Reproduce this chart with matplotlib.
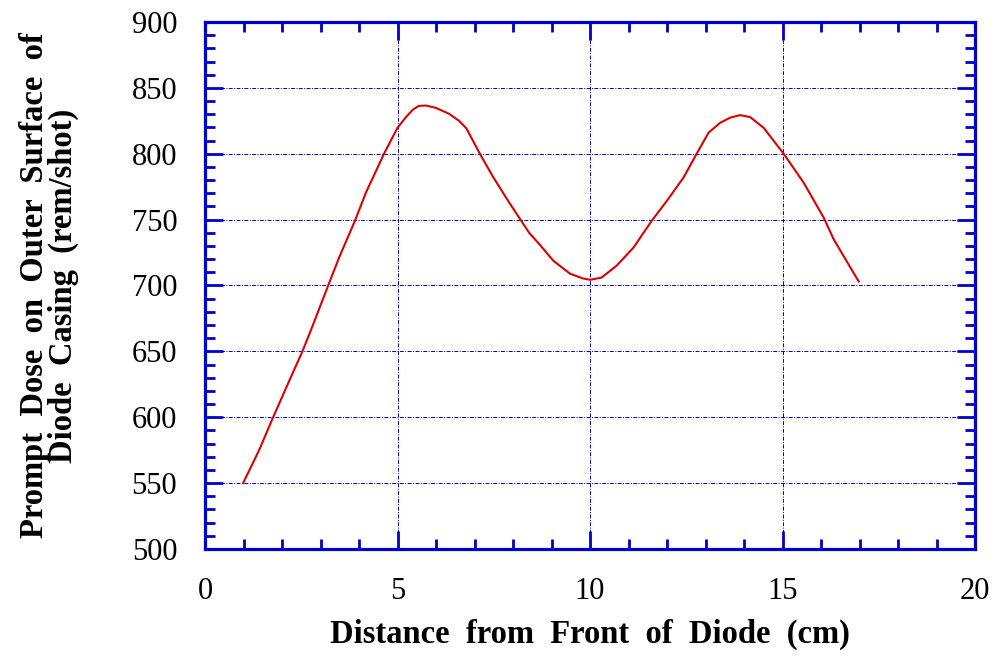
import matplotlib
matplotlib.use("Agg")
import matplotlib.pyplot as plt
from matplotlib.ticker import MultipleLocator

distance_cm = [0.99, 1.41, 1.75, 2.19, 2.53, 2.75, 3.18, 3.48, 3.90, 4.18, 4.65, 5.00,
               5.22, 5.40, 5.55, 5.74, 6.00, 6.34, 6.60, 6.79, 7.14, 7.47, 7.90, 8.42, 8.70,
               9.05, 9.48, 9.80, 10.00, 10.30, 10.69, 11.13, 11.60, 11.99, 12.43, 12.77,
               13.08, 13.38, 13.65, 13.90, 14.16, 14.51, 15.03, 15.55, 16.07, 16.33, 16.98]
dose_rem = [550.0, 575.3, 598.7, 627.8, 650.0, 666.0, 698.5, 721.0, 749.5, 770.5, 800.0, 819.7,
            827.8, 833.5, 836.3, 836.6, 834.8, 830.3, 825.0, 819.2, 800.0, 783.0, 763.0, 740.0, 730.8,
            718.7, 709.0, 705.5, 704.3, 706.0, 715.0, 728.8, 749.0, 764.0, 782.0, 800.0,
            816.0, 823.5, 827.5, 829.3, 827.8, 819.7, 800.0, 778.0, 751.5, 735.0, 703.0]

x_label = "Distance  from  Front  of  Diode  (cm)"
y_label = "Prompt  Dose  on  Outer  Surface  of\nDiode  Casing  (rem/shot)"

blue = "#0000cc"
plt.rcParams['font.family'] = ['Liberation Serif', 'DejaVu Serif']

fig = plt.figure(figsize=(9.94, 6.57), dpi=100)
ax = fig.add_axes([205/994, 1-549/657, (975-205)/994, (549-22)/657])

ax.plot(distance_cm, dose_rem, color="#dd0000", lw=1.5, zorder=3,
        solid_joinstyle='round')

ax.set_xlim(0, 20)
ax.set_ylim(500, 900)
ax.xaxis.set_major_locator(MultipleLocator(5))
ax.xaxis.set_minor_locator(MultipleLocator(1))
ax.yaxis.set_major_locator(MultipleLocator(50))
ax.yaxis.set_minor_locator(MultipleLocator(10))

ax.grid(True, which='major', color=blue, ls=(0, (4, 1.5, 1, 1.5)), lw=0.7)
for s in ax.spines.values():
    s.set_color(blue)
    s.set_linewidth(2.3)

ax.tick_params(which='both', direction='in', top=True, right=True, color=blue,
               labelsize=22, labelcolor='black')
ax.tick_params(which='major', length=13, width=2.0, pad=20)
ax.tick_params(which='minor', length=7, width=2.0)

ax.set_xlabel(x_label, fontsize=23.5, fontweight='bold', labelpad=9)
ax.set_ylabel(y_label, fontsize=23.5, fontweight='bold', labelpad=38, linespacing=0.9)

fig.savefig("out.png", dpi=100)
